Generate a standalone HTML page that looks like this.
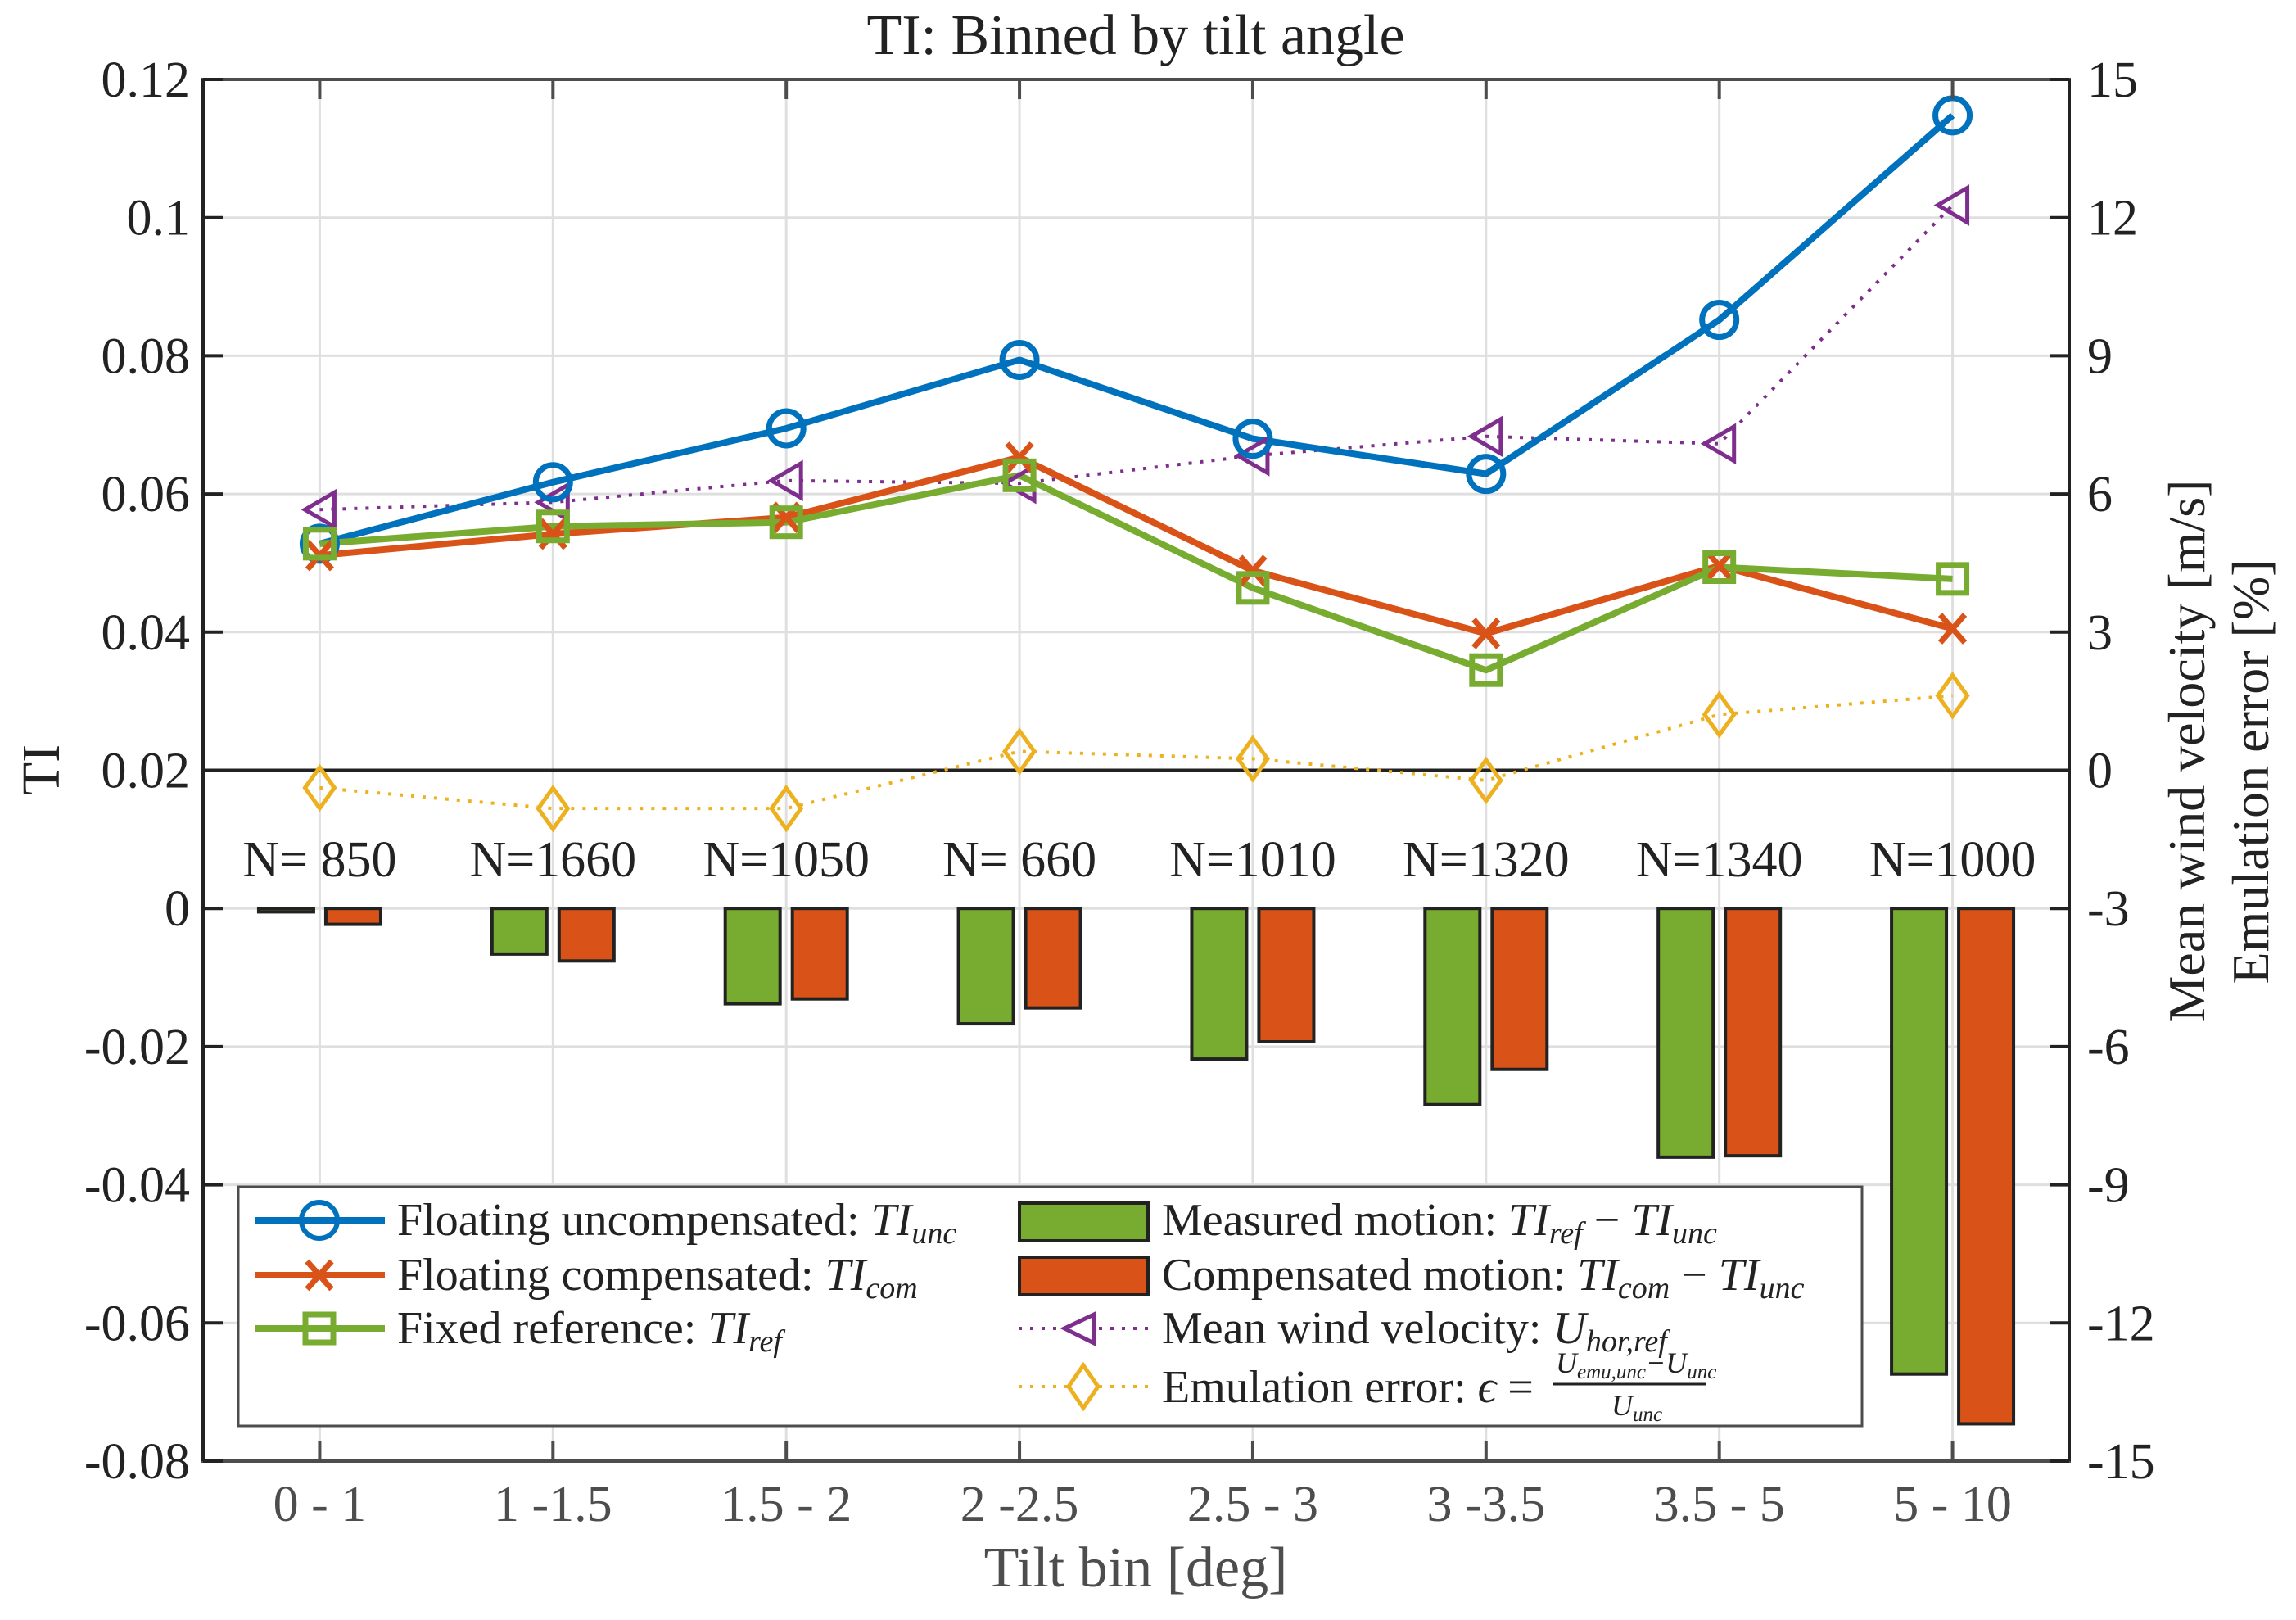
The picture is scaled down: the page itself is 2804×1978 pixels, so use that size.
<!DOCTYPE html>
<html><head><meta charset="utf-8"><style>
html,body{margin:0;padding:0;background:#fff;}
svg{display:block;font-family:"Liberation Serif",serif;}
</style></head><body>
<svg id="chart" width="2804" height="1978" viewBox="0 0 2804 1978" xmlns="http://www.w3.org/2000/svg">
<g id="grid"></g>
<g id="bars"></g>
<g id="lines"></g>
<g id="axes"></g>
<text x="1387" y="66" font-size="70" text-anchor="middle" fill="#222">TI: Binned by tilt angle</text>
<text x="1387" y="1937" font-size="70" text-anchor="middle" fill="#4d4d4d">Tilt bin [deg]</text>
<text transform="translate(72,940) rotate(-90)" font-size="66" text-anchor="middle" fill="#222">TI</text>
<text transform="translate(2692,917) rotate(-90)" font-size="64" text-anchor="middle" fill="#222">Mean wind velocity [m/s]</text>
<text transform="translate(2770,942) rotate(-90)" font-size="64" text-anchor="middle" fill="#222">Emulation error [%]</text>
<g id="legend">
<rect x="291" y="1449" width="1983" height="292" fill="#fff" stroke="#4d4d4d" stroke-width="3"/>
<g>
<line x1="311" y1="1490" x2="470" y2="1490" stroke="#0072BD" stroke-width="8"/>
<circle cx="390" cy="1490" r="22" fill="none" stroke="#0072BD" stroke-width="6"/>
<text x="485" y="1508" font-size="56" fill="#222">Floating uncompensated: <tspan font-style="italic">TI</tspan><tspan font-style="italic" font-size="38" dy="10">unc</tspan></text></g>
<g>
<line x1="311" y1="1557" x2="470" y2="1557" stroke="#D95319" stroke-width="8"/>
<path d="M375 1540 L405 1574 M405 1540 L375 1574" stroke="#D95319" stroke-width="7"/>
<text x="485" y="1575" font-size="56" fill="#222">Floating compensated: <tspan font-style="italic">TI</tspan><tspan font-style="italic" font-size="38" dy="10">com</tspan></text></g>
<g>
<line x1="311" y1="1622" x2="470" y2="1622" stroke="#77AC30" stroke-width="8"/>
<rect x="373" y="1605" width="34" height="34" fill="none" stroke="#77AC30" stroke-width="7"/>
<text x="485" y="1640" font-size="56" fill="#222">Fixed reference: <tspan font-style="italic">TI</tspan><tspan font-style="italic" font-size="38" dy="10">ref</tspan></text></g>
<g>
<rect x="1245" y="1469" width="157" height="46" fill="#77AC30" stroke="#222" stroke-width="4"/>
<text x="1419" y="1508" font-size="56" fill="#222">Measured motion: <tspan font-style="italic">TI</tspan><tspan font-style="italic" font-size="38" dy="10">ref</tspan><tspan dy="-10"> − </tspan><tspan font-style="italic">TI</tspan><tspan font-style="italic" font-size="38" dy="10">unc</tspan></text></g>
<g>
<rect x="1245" y="1535" width="157" height="46" fill="#D95319" stroke="#222" stroke-width="4"/>
<text x="1419" y="1575" font-size="56" fill="#222">Compensated motion: <tspan font-style="italic">TI</tspan><tspan font-style="italic" font-size="38" dy="10">com</tspan><tspan dy="-10"> − </tspan><tspan font-style="italic">TI</tspan><tspan font-style="italic" font-size="38" dy="10">unc</tspan></text></g>
<g>
<line x1="1244" y1="1622" x2="1402" y2="1622" stroke="#7E2F8E" stroke-width="4" stroke-dasharray="4 10"/>
<path d="M1336 1605 L1336 1640 L1300 1622 Z" fill="#fff" stroke="#7E2F8E" stroke-width="5"/>
<text x="1419" y="1640" font-size="56" fill="#222">Mean wind velocity: <tspan font-style="italic">U</tspan><tspan font-style="italic" font-size="38" dy="10">hor,ref</tspan></text></g>
<g>
<line x1="1244" y1="1693" x2="1402" y2="1693" stroke="#EDB120" stroke-width="4" stroke-dasharray="4 10"/>
<path d="M1323 1667 L1341 1693 L1323 1719 L1305 1693 Z" fill="#fff" stroke="#EDB120" stroke-width="5"/>
<text x="1419" y="1712" font-size="56" fill="#222">Emulation error: <tspan font-style="italic">ϵ</tspan> =</text>
<text x="1900" y="1676" font-size="36" font-style="italic" fill="#222">U<tspan font-size="25" dy="7">emu,unc</tspan><tspan dy="-7">−U</tspan><tspan font-size="25" dy="7">unc</tspan></text>
<line x1="1896" y1="1690" x2="2083" y2="1690" stroke="#222" stroke-width="3"/>
<text x="1968" y="1728" font-size="36" font-style="italic" fill="#222">U<tspan font-size="25" dy="7">unc</tspan></text></g>
</g>
</svg>
<script>
const categories = ["0 - 1","1 -1.5","1.5 - 2","2 -2.5","2.5 - 3","3 -3.5","3.5 - 5","5 - 10"];
const countLabels = ["N= 850","N=1660","N=1050","N= 660","N=1010","N=1320","N=1340","N=1000"];
const tiUnc = [0.0528,0.0617,0.0695,0.0794,0.0680,0.0629,0.0852,0.1148];
const tiCom = [0.0511,0.0542,0.0566,0.0653,0.0489,0.0398,0.0496,0.0405];
const tiRef = [0.0528,0.0553,0.0559,0.0627,0.0464,0.0345,0.0494,0.0477];
const measuredMotion = [-0.0005,-0.0066,-0.0138,-0.0167,-0.0218,-0.0284,-0.0360,-0.0674];
const compensatedMotion = [-0.0023,-0.0076,-0.0131,-0.0144,-0.0193,-0.0233,-0.0358,-0.0746];
const windVelocity = [5.66,5.82,6.29,6.23,6.83,7.25,7.09,12.27];
const emulationError = [-0.38,-0.83,-0.83,0.41,0.25,-0.22,1.21,1.62];
const leftTicks = [0.12,0.1,0.08,0.06,0.04,0.02,0,-0.02,-0.04,-0.06,-0.08];
const leftTickLabels = ["0.12","0.1","0.08","0.06","0.04","0.02","0","-0.02","-0.04","-0.06","-0.08"];
const rightTicks = [15,12,9,6,3,0,-3,-6,-9,-12,-15];

const NS="http://www.w3.org/2000/svg";
const L=248,R=2527,T=97,B=1784;
function x(i){return L+(i+0.5)*(R-L)/categories.length;}
function yL(v){return T+(0.12-v)/0.2*(B-T);}
function yR(v){return T+(15-v)/30*(B-T);}
function mk(tag,attrs,parent){const e=document.createElementNS(NS,tag);for(const k in attrs)e.setAttribute(k,attrs[k]);parent.appendChild(e);return e;}
const grid=document.getElementById('grid'),bars=document.getElementById('bars'),lines=document.getElementById('lines'),axes=document.getElementById('axes');

categories.forEach((c,i)=>{const g=mk('line',{x1:x(i),x2:x(i),y1:T,y2:B,stroke:'#dfdfdf','stroke-width':3},grid);

});
leftTicks.forEach(v=>{const g=mk('line',{x1:L,x2:R,y1:yL(v),y2:yL(v),stroke:'#dfdfdf','stroke-width':3},grid);

});

const bw=67,off=41;
measuredMotion.forEach((v,i)=>{const y0=yL(0),y1=yL(v);const r=mk('rect',{x:x(i)-off-bw/2,y:Math.min(y0,y1),width:bw,height:Math.max(Math.abs(y1-y0),1),fill:'#77AC30',stroke:'#222','stroke-width':4},bars);

});
compensatedMotion.forEach((v,i)=>{const y0=yL(0),y1=yL(v);const r=mk('rect',{x:x(i)+off-bw/2,y:Math.min(y0,y1),width:bw,height:Math.max(Math.abs(y1-y0),1),fill:'#D95319',stroke:'#222','stroke-width':4},bars);

});

const zl=mk('line',{x1:L,x2:R,y1:yR(0),y2:yR(0),stroke:'#222','stroke-width':4},lines);



countLabels.forEach((t,i)=>{const e=mk('text',{x:x(i),y:1070,'font-size':62,'text-anchor':'middle',fill:'#222'},lines);e.textContent=t;

});

function series(vals,yf,color,w,dash,name){
 const p=mk('polyline',{points:vals.map((v,i)=>x(i)+','+yf(v)).join(' '),fill:'none',stroke:color,'stroke-width':w,'stroke-linejoin':'round'},lines);
 if(dash)p.setAttribute('stroke-dasharray',dash);
 
 
}
series(emulationError,yR,'#EDB120',4,'4 10','emulation-error');
series(windVelocity,yR,'#7E2F8E',4,'4 10','wind-velocity');
series(tiUnc,yL,'#0072BD',8,null,'ti-unc');
series(tiCom,yL,'#D95319',8,null,'ti-com');
series(tiRef,yL,'#77AC30',8,null,'ti-ref');

emulationError.forEach((v,i)=>{const cx=x(i),cy=yR(v);const m=mk('path',{d:`M${cx} ${cy-25} L${cx+18} ${cy} L${cx} ${cy+25} L${cx-18} ${cy} Z`,fill:'none',stroke:'#EDB120','stroke-width':5},lines);

});
windVelocity.forEach((v,i)=>{const cx=x(i),cy=yR(v);const m=mk('path',{d:`M${cx+18} ${cy-21} L${cx+18} ${cy+21} L${cx-18} ${cy} Z`,fill:'none',stroke:'#7E2F8E','stroke-width':5},lines);

});
tiUnc.forEach((v,i)=>{const m=mk('circle',{cx:x(i),cy:yL(v),r:21,fill:'none',stroke:'#0072BD','stroke-width':7},lines);

});
tiCom.forEach((v,i)=>{const cx=x(i),cy=yL(v);const m=mk('path',{d:`M${cx-15} ${cy-17} L${cx+15} ${cy+17} M${cx+15} ${cy-17} L${cx-15} ${cy+17}`,stroke:'#D95319','stroke-width':7},lines);

});
tiRef.forEach((v,i)=>{const cx=x(i),cy=yL(v);const m=mk('rect',{x:cx-17,y:cy-17,width:34,height:34,fill:'none',stroke:'#77AC30','stroke-width':7},lines);

});

const box=mk('rect',{x:L,y:T,width:R-L,height:B-T,fill:'none',stroke:'#4d4d4d','stroke-width':4},axes);


const la=mk('line',{x1:L,x2:L,y1:T,y2:B,stroke:'#222','stroke-width':4},axes);


const ra=mk('line',{x1:R,x2:R,y1:T,y2:B,stroke:'#222','stroke-width':4},axes);


leftTicks.forEach((v,i)=>{const y=yL(v);mk('line',{x1:L,x2:L+24,y1:y,y2:y,stroke:'#222','stroke-width':4},axes);
const t=mk('text',{x:L-16,y:y+21,'font-size':62,'text-anchor':'end',fill:'#222'},axes);t.textContent=leftTickLabels[i];

});
rightTicks.forEach(v=>{const y=yR(v);mk('line',{x1:R-24,x2:R,y1:y,y2:y,stroke:'#222','stroke-width':4},axes);
const t=mk('text',{x:R+22,y:y+21,'font-size':62,'text-anchor':'start',fill:'#222'},axes);t.textContent=String(v);

});
categories.forEach((c,i)=>{mk('line',{x1:x(i),x2:x(i),y1:B,y2:B-24,stroke:'#4d4d4d','stroke-width':4},axes);mk('line',{x1:x(i),x2:x(i),y1:T,y2:T+24,stroke:'#4d4d4d','stroke-width':4},axes);
const t=mk('text',{x:x(i),y:1857,'font-size':62,'text-anchor':'middle',fill:'#4d4d4d'},axes);t.textContent=c;

});
</script>
</body></html>
